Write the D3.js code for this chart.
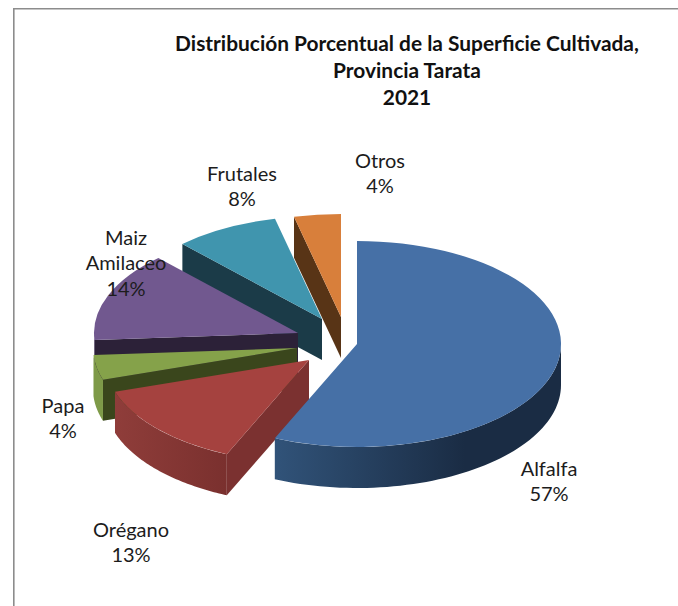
<!DOCTYPE html>
<html>
<head>
<meta charset="utf-8">
<script src="https://cdnjs.cloudflare.com/ajax/libs/d3/7.8.5/d3.min.js"></script>
<style>html,body{margin:0;padding:0;background:#fff}svg{display:block}</style>
</head>
<body>
<div id="chart"></div>
<script>
// ---- data ----
const categories = ["Alfalfa", "Orégano", "Papa", "Maiz Amilaceo", "Frutales", "Otros"];
const shares = [56.6, 13.4, 3.9, 14.1, 8.3, 3.7];
const shareLabels = ["57%", "13%", "4%", "14%", "8%", "4%"];
const titleLines = ["Distribución Porcentual de la Superficie Cultivada,", "Provincia Tarata", "2021"];

// ---- style / layout (not data) ----
const topColors = ["#4670a6", "#a5423f", "#85a24a", "#71588f", "#4095ae", "#d87f3b"];
const cutColors = ["#1b2d45", "#7b3130", "#3a461c", "#2c2138", "#1b3b48", "#583416"];
const wallFrom  = ["#315379", "#8f3d3a", "#7e9a48", "#4b3b60", "#2a6273", "#8f5527"];
const wallTo    = ["#1a2c44", "#7a302e", "#7e9a48", "#4b3b60", "#2a6273", "#8f5527"];
const sliceApex = [[357,344],[309,360],[297,348],[298,333],[322,319],[341,317]];
const labelAnchors = [[549,469],[131,530],[63,406],[126,238],[242,174],[380,161]];
const labelBreaks = [["Alfalfa"],["Orégano"],["Papa"],["Maiz","Amilaceo"],["Frutales"],["Otros"]];
const W = 678, H = 606, rx = 204, ry = 103, depth = 41, lineH = 25.7;
const font = "Lato, Carlito, Calibri, sans-serif";

const svg = d3.select("#chart").append("svg").attr("width", W).attr("height", H);
const defs = svg.append("defs");

// frame
svg.append("path").attr("d", "M678,8.8H13.8V606").attr("fill", "none").attr("stroke", "#8c8c8c").attr("stroke-width", 1.6);

// title
svg.append("g").selectAll("text").data(titleLines).join("text")
  .attr("x", 407).attr("y", (d, i) => 50.5 + i * 27)
  .attr("text-anchor", "middle").attr("font-family", font).attr("font-weight", 700)
  .attr("font-size", 20.9).attr("fill", "#111").text(d => d);

// pie angles from the data
const arcs = d3.pie().sort(null).value(d => d)(shares);
const sx = d3.scaleLinear().domain([-1, 1]).range([-rx, rx]);
const sy = d3.scaleLinear().domain([-1, 1]).range([-ry, ry]);
const rim = a => [sx(Math.sin(a)), sy(-Math.cos(a))];
const arcTop = d3.arc().innerRadius(0).outerRadius(rx);

const layer = svg.append("g");

[5, 4, 3, 2, 1, 0].forEach(i => {
  const d = arcs[i];
  const [cx, cy] = sliceApex[i];
  const g = layer.append("g").attr("transform", `translate(${cx},${cy})`);
  const a0 = d.startAngle, a1 = d.endAngle;

  // wall below the radial cut at the slice's start angle (visible for all but Alfalfa)
  if (i !== 0) {
    const p = rim(a0);
    g.append("path")
      .attr("d", d3.line()([[0, 0], p, [p[0], p[1] + depth], [0, depth]]))
      .attr("fill", cutColors[i]);
  }
  // outer wall on the front half of the ellipse
  const lo = Math.max(a0, Math.PI / 2), hi = Math.min(a1, Math.PI * 1.5);
  if (hi > lo) {
    const steps = d3.range(0, 61).map(k => lo + (hi - lo) * k / 60);
    const upper = steps.map(rim);
    const lower = steps.map(rim).reverse().map(q => [q[0], q[1] + depth]);
    const gid = "wall" + i;
    const xs = upper.map(q => q[0]);
    const lg = defs.append("linearGradient").attr("id", gid).attr("gradientUnits", "userSpaceOnUse")
      .attr("x1", d3.min(xs)).attr("x2", i === 0 ? d3.min(xs) + 190 : d3.max(xs)).attr("y1", 0).attr("y2", 0);
    lg.append("stop").attr("offset", 0).attr("stop-color", wallFrom[i]);
    lg.append("stop").attr("offset", 1).attr("stop-color", wallTo[i]);
    g.append("path").attr("d", d3.line()(upper.concat(lower))).attr("fill", `url(#${gid})`);
  }
  // top face
  g.append("path")
    .attr("transform", `scale(1,${ry / rx})`)
    .attr("d", arcTop({startAngle: a0, endAngle: a1}))
    .attr("fill", topColors[i]);
});

// labels
const labelG = svg.append("g").attr("font-family", font).attr("font-size", 20).attr("fill", "#1c1c1c").attr("text-anchor", "middle");
categories.forEach((c, i) => {
  labelBreaks[i].concat([shareLabels[i]]).forEach((t, k) => {
    labelG.append("text").attr("x", labelAnchors[i][0]).attr("y", labelAnchors[i][1] + 6.5 + k * lineH).text(t);
  });
});
</script>
</body>
</html>
